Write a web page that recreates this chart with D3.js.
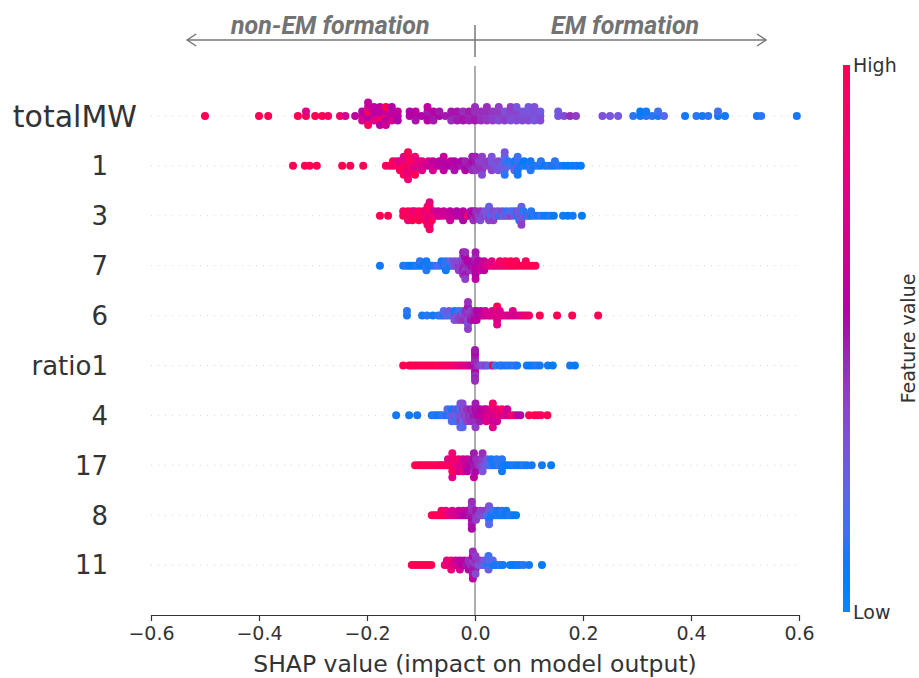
<!DOCTYPE html>
<html>
<head>
<meta charset="utf-8">
<script src="https://cdn.jsdelivr.net/npm/d3@7"></script>
<style>
  body { margin: 0; background: #fff; }
  text { font-family: "DejaVu Sans", sans-serif; }
</style>
</head>
<body>
<svg id="chart"></svg>
<script>
// features, top to bottom
const features = ["totalMW", "1", "3", "7", "6", "ratio1", "4", "17", "8", "11"];

// each entry: [SHAP value, feature value of every sample sitting at that SHAP value...]
// feature values are normalised, 0 = low (blue), 1 = high (red)
const shapTotalMW = [
  [-0.50,1],[-0.40,1],[-0.383,1],[-0.328,1],[-0.313,1,0.75],[-0.296,1],[-0.283,1],[-0.272,0.95],
  [-0.25,0.9],[-0.24,0.7],[-0.222,0.6],
  [-0.209,0.68,0.58,0.72],[-0.198,0.62,1,0.58,0.7,0.95,0.62],[-0.187,0.62,0.58,0.75,0.62],
  [-0.176,0.7,0.58,0.9,0.62,0.58],[-0.165,0.95,0.62,0.58,1,0.65],[-0.154,0.58,0.62,0.7,0.55],
  [-0.143,0.58,0.62,0.55],[-0.121,0.58,0.55],[-0.11,0.55,0.6,0.52],[-0.099,0.55],
  [-0.088,0.55,0.5,0.58,0.62],[-0.077,0.52,0.58,0.5],[-0.066,0.55,0.5],[-0.055,0.5],
  [-0.044,0.5,0.52,0.45],[-0.033,0.48,0.52,0.5],[-0.022,0.5,0.45,0.52],[-0.011,0.45,0.5,0.48],
  [0.0,0.48,0.45,0.5,0.45],[0.011,0.42,0.45,0.45],[0.022,0.4,0.45,0.42,0.45],[0.033,0.38,0.42,0.4],
  [0.044,0.38,0.42,0.35,0.4],[0.055,0.38,0.33,0.4],[0.066,0.35,0.38,0.33,0.4],[0.077,0.33,0.38,0.35,0.3],
  [0.088,0.33,0.3,0.35],[0.099,0.33,0.3,0.35,0.28],[0.11,0.3,0.33,0.28,0.33],[0.121,0.33,0.28,0.35],
  [0.154,0.3,0.28],[0.165,0.35],[0.176,0.45],[0.187,0.4],[0.236,0.32],[0.25,0.3],[0.265,0.28],
  [0.293,0.12],[0.306,0.1,0.08],[0.317,0.12,0.1],[0.328,0.12],[0.339,0.1,0.15],[0.35,0.2],
  [0.389,0.1],[0.41,0.12],[0.421,0.1],[0.432,0.12],[0.45,0.1,0.15],[0.463,0.1],[0.522,0.1],[0.53,0.12],[0.596,0.1]
];
const shap1 = [
  [-0.337,1],[-0.315,1],[-0.306,1],[-0.293,1],[-0.246,1],[-0.231,1],[-0.207,1],
  [-0.165,0.9],[-0.158,1],[-0.152,0.85,1],[-0.145,0.9,0.8],[-0.139,1,0.75,0.9],
  [-0.132,0.9,0.8,1,0.75,0.95],[-0.124,1,0.85,0.75,0.9,0.8,1,0.85],[-0.117,0.8,0.95,0.9],
  [-0.111,0.75,0.9,0.7,0.85,1],[-0.104,0.8,0.75],[-0.098,0.7,0.8,0.75],[-0.092,0.7],
  [-0.086,0.65,0.7],[-0.078,0.65,0.6,0.7],[-0.072,0.62],[-0.066,0.6,0.58],[-0.058,0.62,0.55,0.6,0.65],
  [-0.051,0.58],[-0.045,0.55,0.6],[-0.038,0.6,0.55,0.52],[-0.031,0.55],[-0.025,0.5,0.55],
  [-0.018,0.52,0.48,0.55],[-0.011,0.5],[-0.005,0.5,0.55,0.45,0.5],
  [0.001,0.45,0.5,0.42,0.48],[0.007,0.45,0.4],[0.013,0.42,0.38,0.45,0.4,0.35],[0.019,0.4],[0.025,0.38,0.42],
  [0.031,0.35,0.3,0.38,0.32],[0.037,0.3],[0.043,0.28,0.35,0.3],[0.049,0.25],[0.055,0.3,0.15,0.25,0.2,0.12,0.3],
  [0.061,0.2,0.12],[0.067,0.15],[0.073,0.12,0.1,0.25],[0.079,0.3,0.12,0.1,0.15,0.1],[0.085,0.1],
  [0.091,0.12,0.08],[0.097,0.1],[0.103,0.15,0.1,0.12],[0.109,0.1],[0.116,0.12],[0.122,0.1,0.12],
  [0.13,0.08],[0.136,0.12],[0.142,0.1],[0.148,0.1,0.12],[0.156,0.12],[0.164,0.1],[0.172,0.08],
  [0.18,0.1],[0.188,0.1],[0.196,0.08]
];
const shap3 = [
  [-0.176,1],[-0.161,1],
  [-0.133,1,0.9],[-0.128,1],[-0.124,0.9,1,0.85],[-0.12,0.85],[-0.116,0.95,0.9,1],[-0.112,1,0.8],
  [-0.108,0.9],[-0.104,0.85,0.95,1],[-0.1,1],[-0.096,0.8,0.95],
  [-0.092,0.9,0.75,1],[-0.088,1,0.85,0.8,0.9,0.95],[-0.084,0.75,0.9,0.7,1,0.85,0.8,0.9],[-0.08,0.8,0.9,1],
  [-0.076,0.85,0.7],[-0.072,0.8],[-0.068,0.75,0.65],[-0.064,0.7],
  [-0.058,0.7,0.65],[-0.052,0.65],[-0.046,0.7,0.6,0.65],[-0.04,0.62],[-0.034,0.6,0.55],[-0.028,0.58],
  [-0.022,0.58,0.6,0.55],[-0.016,0.55],[-0.013,0.95],[-0.008,0.55,0.52],[-0.003,0.5,0.55,0.45],
  [0.002,0.5,0.45],[0.006,0.4],[0.01,0.4,0.45,0.35],[0.014,0.35],[0.018,0.4,0.3],[0.022,0.3],
  [0.026,0.35,0.3,0.38,0.25],[0.03,0.15],[0.034,0.3,0.35,0.4],[0.038,0.25],[0.042,0.35,0.3],[0.046,0.12],
  [0.05,0.3,0.35],[0.054,0.2],[0.058,0.35,0.12],[0.062,0.25],[0.066,0.4,0.2],[0.072,0.3,0.15],
  [0.078,0.1,0.35],[0.082,0.3,0.25,0.12],[0.086,0.35,0.3,0.3,0.25,0.4],[0.09,0.3,0.12],
  [0.096,0.1],[0.1,0.3],[0.104,0.1,0.12],[0.11,0.12],[0.116,0.1],[0.122,0.15],[0.128,0.1],[0.134,0.1],
  [0.14,0.12],[0.146,0.08],[0.163,0.1],[0.172,0.08],[0.181,0.1],[0.198,0.08]
];
const shap7 = [
  [-0.176,0.1],[-0.133,0.1],[-0.127,0.12],[-0.122,0.1],[-0.117,0.08],[-0.112,0.1],[-0.107,0.12],
  [-0.102,0.1,0.12],[-0.096,0.08],[-0.09,0.15,0.1,0.12],[-0.086,0.1],[-0.08,0.1],[-0.074,0.12],
  [-0.068,0.2],[-0.062,0.15,0.1],[-0.058,0.1],[-0.054,0.2,0.12,0.1],[-0.05,0.12],[-0.046,0.1,0.25],
  [-0.042,0.15],[-0.038,0.3,0.35],
  [-0.034,0.35],[-0.03,0.45,0.35,0.4],[-0.026,0.4],[-0.022,0.45,0.4,0.5,0.35,0.45,0.5],
  [-0.018,0.5,0.45,0.4,0.55,0.5,0.45,0.4],[-0.014,0.45,0.55],[-0.01,0.5,0.55,0.45],[-0.006,0.55],[-0.003,0.5,0.55],
  [0.001,0.55,0.5,0.6,0.45,0.55,0.5,0.6],[0.005,0.55,0.6],[0.009,0.6,0.55,0.65],[0.013,0.65],
  [0.017,0.7,0.65,0.6],[0.021,0.7],[0.026,0.75],[0.031,0.8,0.75],[0.036,0.8],[0.041,0.85],
  [0.046,0.85,0.9],[0.051,0.9],[0.056,0.9,0.95],[0.061,0.95],[0.066,0.95,1],[0.071,1],[0.076,1,0.95],
  [0.082,1],[0.088,1],[0.094,1,0.95],[0.1,1],[0.106,1],[0.112,1]
];
const shap6 = [
  [-0.126,0.1,0.12],[-0.098,0.1],[-0.089,0.12],[-0.078,0.1],
  [-0.068,0.12],[-0.063,0.15],[-0.058,0.1,0.2],[-0.053,0.25],[-0.048,0.15,0.3],[-0.043,0.2],
  [-0.038,0.35,0.1,0.3],[-0.034,0.3],[-0.03,0.35,0.15,0.4],[-0.026,0.4],[-0.022,0.35,0.15,0.45],
  [-0.018,0.4,0.45],[-0.013,0.45,0.4,0.35,0.5,0.3,0.45,0.4],[-0.008,0.45,0.4,0.5],[-0.004,0.45],
  [-0.001,0.5,0.45,0.55],
  [0.003,0.5,0.55,0.6],[0.007,0.55],[0.011,0.6,0.55],[0.015,0.65],[0.019,0.65,0.7],[0.024,0.7],
  [0.028,0.72],[0.032,0.7,0.68],[0.036,0.75],[0.041,0.72,0.8,0.7,1,0.75],[0.046,0.8,0.7],[0.05,0.75],
  [0.055,0.72],[0.06,0.75],[0.065,0.7],[0.07,0.72,0.75],[0.075,0.7],[0.08,0.72],[0.085,0.75],
  [0.09,0.8],[0.095,0.85],[0.1,0.9],[0.12,1],[0.152,1],[0.18,1],[0.228,1]
];
const shapRatio1 = [
  [-0.133,1],[-0.122,1],[-0.118,1],[-0.113,1],[-0.108,1],[-0.103,1],[-0.098,1],[-0.093,0.95],
  [-0.088,1],[-0.083,1],[-0.078,0.95],[-0.073,1],[-0.068,0.95],[-0.063,1],[-0.058,0.95],[-0.053,0.9],
  [-0.048,0.95],[-0.043,0.9],[-0.038,0.85],[-0.033,0.85],[-0.028,0.8],[-0.023,0.75],[-0.018,0.75],
  [-0.013,0.7],[-0.008,0.65],[-0.004,0.6],
  [0,0.5,0.45,0.55,0.48,0.52,0.45,0.58,0.5,0.42,0.55,0.48,0.5,0.45],
  [0.004,0.45],[0.008,0.4],[0.012,0.35],[0.016,0.3],[0.02,0.4],[0.024,0.25],[0.03,0.2],[0.033,1],
  [0.038,0.15],[0.046,0.1],[0.05,0.12],[0.056,0.1],[0.062,0.12],[0.068,0.1],[0.074,0.15],[0.078,0.1],
  [0.096,0.1],[0.102,0.08],[0.108,0.1],[0.114,0.12],[0.12,0.1],[0.135,0.1],[0.144,0.08],[0.176,0.1],[0.185,0.08]
];
const shap4 = [
  [-0.146,0.1],[-0.122,0.1],[-0.107,0.1],[-0.08,0.1],[-0.075,0.12],[-0.07,0.1],[-0.065,0.1],
  [-0.06,0.15],[-0.055,0.12],[-0.051,0.1,0.2],
  [-0.047,0.15],[-0.043,0.25,0.1,0.2],[-0.039,0.3],[-0.035,0.2,0.35,0.15],[-0.031,0.3,0.1],
  [-0.027,0.35,0.2,0.4,0.3,0.25],[-0.023,0.3,0.4,0.25,0.35,0.2],[-0.019,0.4,0.3],[-0.015,0.35,0.45,0.4],
  [-0.011,0.45],[-0.007,0.4,0.5,0.45],[-0.003,0.5,0.45],
  [0.001,0.5,0.55,0.45,0.5,0.4],[0.005,0.55,0.5],[0.009,0.6,0.55,0.5],[0.013,0.6],[0.017,0.65,0.6],
  [0.021,0.7,0.65,0.75],[0.025,0.7],[0.029,0.75,0.7],[0.033,0.7,0.8,0.65,0.9,0.75],[0.037,0.75],
  [0.041,0.7,0.8,0.65],[0.045,0.85],[0.05,0.7,0.9],[0.055,0.75],[0.06,0.7,0.65],[0.066,0.8],
  [0.072,0.9],[0.078,0.6],[0.084,0.55],[0.1,1],[0.11,1],[0.116,1],[0.122,0.95],[0.134,1]
];
const shap17 = [
  [-0.111,1],[-0.105,1],[-0.1,1],[-0.095,1],[-0.09,0.95],[-0.085,1],[-0.08,1],[-0.075,0.95],
  [-0.07,1],[-0.066,0.95],[-0.062,1],[-0.058,0.9],[-0.054,1],
  [-0.05,0.95,0.8],[-0.046,0.9],[-0.042,1,0.8,0.9,0.85,0.75],[-0.038,0.85,0.9,1],[-0.034,0.8],
  [-0.03,0.75,0.85,0.7],[-0.026,0.7],[-0.022,0.75,0.65,0.8],[-0.018,0.7],[-0.014,0.6,0.65,0.55],
  [-0.01,0.6],[-0.006,0.55,0.5],[-0.002,0.5,0.55,0.45,0.5,0.6],
  [0.002,0.5,0.45,0.55],[0.006,0.45],[0.01,0.4,0.45],[0.014,0.35,0.4,0.3,0.45],[0.018,0.3],
  [0.022,0.25,0.3],[0.026,0.2],[0.03,0.15,0.1],[0.035,0.1],[0.04,0.1,0.12],[0.045,0.15],
  [0.05,0.1,0.12,0.1],[0.055,0.1],[0.06,0.08],[0.066,0.1],[0.072,0.12],[0.078,0.1],[0.084,0.1],
  [0.09,0.12],[0.096,0.1],[0.105,0.1],[0.124,0.1],[0.141,0.08]
];
const shap8 = [
  [-0.08,1],[-0.075,1],[-0.07,0.95],[-0.066,1],[-0.062,0.95,0.9],[-0.058,1],[-0.054,0.95,0.85],
  [-0.05,0.8],[-0.046,0.8],[-0.042,0.75,0.7],[-0.038,0.75],[-0.034,0.7],[-0.03,0.7,0.65],[-0.026,0.65],
  [-0.022,0.6,0.65],[-0.018,0.55],[-0.014,0.55,0.6],[-0.01,0.5],
  [-0.006,0.5,0.45,0.55,0.4,0.5,0.45,0.55],[-0.002,0.5,0.45],
  [0.002,0.45,0.5,0.4],[0.006,0.4],[0.01,0.35,0.4],[0.014,0.35],[0.018,0.3,0.4],[0.022,0.2],
  [0.026,0.15,0.25,0.1,0.3,0.2],[0.03,0.1],[0.034,0.1,0.15],[0.038,0.1],[0.042,0.12,0.1],[0.046,0.1],
  [0.05,0.1,0.12],[0.054,0.1],[0.058,0.08,0.1],[0.062,0.1],[0.066,0.12],[0.07,0.1],[0.076,0.08]
];
const shap11 = [
  [-0.117,1],[-0.111,1],[-0.105,1],[-0.099,1],[-0.093,1],[-0.087,1],[-0.081,1],
  [-0.056,0.8],[-0.052,0.9,0.75],[-0.048,0.8],[-0.044,0.75,0.9,0.85],[-0.04,0.7],[-0.036,0.75,0.65],
  [-0.032,0.7],[-0.028,0.65,0.6,0.7],[-0.024,0.6],[-0.02,0.55,0.6],[-0.016,0.5],[-0.012,0.5,0.45,0.55],
  [-0.008,0.45],[-0.004,0.45,0.4,0.5,0.55,0.5,0.45,0.6],
  [0.001,0.4,0.45,0.5,0.4,0.35],[0.005,0.35],[0.009,0.3,0.4],[0.013,0.3],[0.017,0.2,0.3],[0.021,0.15],
  [0.025,0.1,0.2,0.25,0.15],[0.029,0.15],[0.033,0.1,0.2],[0.037,0.1],[0.042,0.1],[0.047,0.12],
  [0.052,0.1],[0.065,0.1],[0.071,0.08],[0.077,0.1],[0.083,0.1],[0.09,0.12],[0.1,0.1],[0.124,0.08]
];

const rows = [shapTotalMW, shap1, shap3, shap7, shap6, shapRatio1, shap4, shap17, shap8, shap11];

const xTicks = [-0.6, -0.4, -0.2, 0, 0.2, 0.4, 0.6];
const xTitle = "SHAP value (impact on model output)";
const directionLabels = ["non-EM formation", "EM formation"];
const colorbarTitle = "Feature value";

const width = 919, height = 678;

const svg = d3.select("#chart")
  .attr("width", width)
  .attr("height", height);

const x = d3.scaleLinear().domain([-0.6, 0.6]).range([151, 799]);
const y = d3.scaleLinear().domain([-1, features.length]).range([615, 66]);

// shap red_blue colormap (lch path, darker in the middle)
function redBlue(t) {
  t = Math.max(0, Math.min(1, t));
  const l = t < 0.5 ? 54 - 28 * t : 40 + 28 * (t - 0.5);
  return d3.hcl(266.93 + 113.39 * t, 70 + 20 * t, l).formatHex();
}

// expand [shap, fv, fv, ...] groups into single samples
function samples(groups) {
  return groups.flatMap(g => g.slice(1).map(fv => [g[0], fv]));
}

// beeswarm offsets the way shap does it: bin, then stack up/down
function swarm(pts) {
  const nbins = 100;
  const vals = pts.map(d => d[0]);
  const lo = d3.min(vals), hi = d3.max(vals);
  const quant = vals.map(v => Math.round(nbins * (v - lo) / (hi - lo + 1e-8)));
  const order = d3.range(pts.length).sort((a, b) => quant[a] - quant[b] || a - b);
  const ys = new Array(pts.length).fill(0);
  let layer = 0, last = -1;
  for (const i of order) {
    if (quant[i] !== last) layer = 0;
    ys[i] = Math.ceil(layer / 2) * ((layer % 2) * 2 - 1);
    layer++;
    last = quant[i];
  }
  const k = 0.9 * 0.4 / d3.max(ys, v => v + 1);
  return ys.map(v => v * k);
}

// background guides
svg.append("line")
  .attr("x1", x(0)).attr("x2", x(0))
  .attr("y1", y.range()[1]).attr("y2", y.range()[0])
  .attr("stroke", "#999").attr("stroke-width", 1.6);

features.forEach((f, i) => {
  const pos = features.length - 1 - i;
  svg.append("line")
    .attr("x1", x.range()[0]).attr("x2", x.range()[1])
    .attr("y1", y(pos)).attr("y2", y(pos))
    .attr("stroke", "#ccc").attr("stroke-width", 0.8)
    .attr("stroke-dasharray", "1,6");
});

// dots
rows.forEach((groups, i) => {
  const pos = features.length - 1 - i;
  const pts = samples(groups);
  const off = swarm(pts);
  svg.append("g")
    .selectAll("circle")
    .data(pts)
    .join("circle")
    .attr("cx", d => x(d[0]))
    .attr("cy", (d, j) => y(pos + off[j]))
    .attr("r", 4)
    .attr("fill", d => redBlue(d[1]));
});

// feature names
svg.append("g")
  .selectAll("text")
  .data(features)
  .join("text")
  .attr("x", (d, i) => i === 0 ? 137 : 108)
  .attr("y", (d, i) => y(features.length - 1 - i))
  .attr("dy", "0.36em")
  .attr("text-anchor", "end")
  .style("font-size", (d, i) => i === 0 ? "30px" : "26px")
  .attr("fill", "#333")
  .text(d => d);

// x axis
const xAxis = svg.append("g")
  .attr("transform", `translate(0,${y(-1)})`)
  .call(d3.axisBottom(x).tickValues(xTicks).tickFormat(d3.format(".1f")).tickSize(6).tickSizeOuter(0));
xAxis.select(".domain").attr("stroke", "#333").attr("stroke-width", 1.2);
xAxis.selectAll(".tick line").attr("stroke", "#333").attr("stroke-width", 1.2);
xAxis.selectAll(".tick text")
  .attr("fill", "#333")
  .attr("dy", "0.85em")
  .style("font-family", "DejaVu Sans")
  .style("font-size", "19px");

svg.append("text")
  .attr("x", x(0)).attr("y", 672)
  .attr("text-anchor", "middle")
  .style("font-size", "23.5px")
  .attr("fill", "#333")
  .text(xTitle);

// direction arrows on top
const arrows = svg.append("g").attr("stroke", "#777").attr("stroke-width", 1.5).attr("fill", "none");
const ay = 40;
const leftTip = x(-0.533), rightTip = x(0.539);
arrows.append("line").attr("x1", x(0)).attr("x2", x(0)).attr("y1", 25).attr("y2", 57);
arrows.append("line").attr("x1", x(0)).attr("x2", leftTip).attr("y1", ay).attr("y2", ay);
arrows.append("line").attr("x1", x(0)).attr("x2", rightTip).attr("y1", ay).attr("y2", ay);
arrows.append("path").attr("d", `M${leftTip + 9},${ay - 6}L${leftTip},${ay}L${leftTip + 9},${ay + 6}`);
arrows.append("path").attr("d", `M${rightTip - 9},${ay - 6}L${rightTip},${ay}L${rightTip - 9},${ay + 6}`);

svg.selectAll(".dir")
  .data(directionLabels)
  .join("text")
  .attr("class", "dir")
  .attr("x", (d, i) => x(i === 0 ? -0.268 : 0.278))
  .attr("y", 34)
  .attr("text-anchor", "middle")
  .style("font-family", "Roboto, sans-serif")
  .style("font-weight", "bold")
  .style("font-style", "italic")
  .style("font-size", "25px")
  .attr("fill", "#737373")
  .text(d => d);

// colour bar
const defs = svg.append("defs");
const grad = defs.append("linearGradient")
  .attr("id", "cbar").attr("x1", 0).attr("x2", 0).attr("y1", 1).attr("y2", 0);
d3.range(0, 1.0001, 0.05).forEach(t => {
  grad.append("stop").attr("offset", t).attr("stop-color", redBlue(t));
});
const cbTop = 65, cbBottom = 612;
svg.append("rect")
  .attr("x", 843).attr("y", cbTop)
  .attr("width", 7).attr("height", cbBottom - cbTop)
  .attr("fill", "url(#cbar)");
svg.append("text").attr("x", 853).attr("y", cbTop).attr("dy", "0.35em")
  .style("font-size", "19px").attr("fill", "#333").text("High");
svg.append("text").attr("x", 853).attr("y", cbBottom).attr("dy", "0.35em")
  .style("font-size", "19px").attr("fill", "#333").text("Low");
svg.append("text")
  .attr("transform", `translate(908,${(cbTop + cbBottom) / 2}) rotate(-90)`)
  .attr("text-anchor", "middle")
  .attr("dy", "0.35em")
  .style("font-size", "19px")
  .attr("fill", "#333")
  .text(colorbarTitle);
</script>
</body>
</html>
